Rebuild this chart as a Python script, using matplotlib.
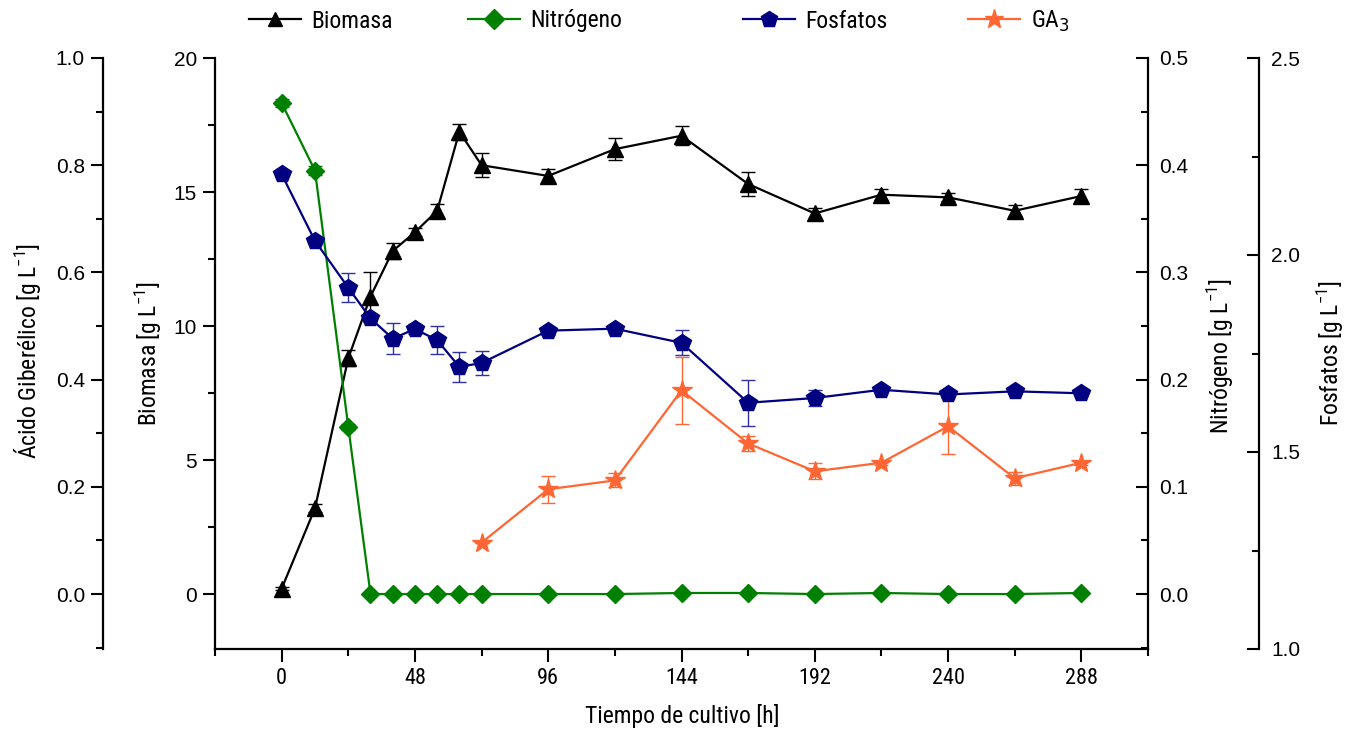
import matplotlib
matplotlib.use('Agg')
import matplotlib.pyplot as plt
from matplotlib.lines import Line2D
from matplotlib.ticker import MultipleLocator, FormatStrFormatter

# ---------------- data ----------------
time_h = [0, 12, 24, 32, 40, 48, 56, 64, 72, 96, 120, 144, 168, 192, 216, 240, 264, 288]
biomasa = [0.2, 3.2, 8.8, 11.1, 12.8, 13.5, 14.3, 17.25, 16.0, 15.6, 16.6, 17.1,
           15.3, 14.2, 14.9, 14.8, 14.3, 14.85]
biomasa_err = [0.05, 0.15, 0.3, 0.9, 0.3, 0.15, 0.25, 0.3, 0.45, 0.25, 0.4, 0.35,
               0.45, 0.2, 0.2, 0.15, 0.2, 0.25]
nitrogeno = [0.458, 0.395, 0.156, 0.0, 0.0, 0.0, 0.0, 0.0, 0.0, 0.0, 0.0, 0.001,
             0.001, 0.0, 0.001, 0.0, 0.0, 0.001]
nitrogeno_err = [0.004, 0.004, 0.003, 0.0, 0.0, 0.0, 0.0, 0.0, 0.0, 0.0, 0.0, 0.0,
                 0.0, 0.0, 0.0, 0.0, 0.0, 0.0]
fosfatos = [2.205, 2.036, 1.917, 1.839, 1.788, 1.812, 1.784, 1.716, 1.726, 1.808,
            1.813, 1.777, 1.625, 1.637, 1.658, 1.646, 1.654, 1.649]
fosfatos_err = [0.005, 0.005, 0.037, 0.01, 0.04, 0.012, 0.035, 0.039, 0.031, 0.01,
                0.01, 0.032, 0.059, 0.02, 0.005, 0.005, 0.005, 0.005]
ga_time = [72, 96, 120, 144, 168, 192, 216, 240, 264, 288]
ga3 = [0.096, 0.1955, 0.212, 0.380, 0.281, 0.229, 0.245, 0.313, 0.216, 0.245]
ga3_err = [0.0, 0.025, 0.013, 0.063, 0.014, 0.015, 0.004, 0.052, 0.012, 0.004]

x_ticks = [0, 48, 96, 144, 192, 240, 288]

# ---------------- style ----------------
NARROW = ['Liberation Sans Narrow', 'Roboto Condensed', 'Liberation Sans', 'DejaVu Sans']
REG = ['Liberation Sans', 'Arial', 'DejaVu Sans']
plt.rcParams['font.family'] = REG
plt.rcParams['mathtext.fontset'] = 'custom'
plt.rcParams['mathtext.rm'] = 'Liberation Sans Narrow'

C_BIO = 'black'
C_N = '#008000'
C_P = '#000080'
C_GA = '#FF6633'

W, H = 1358, 736
fig = plt.figure(figsize=(W / 100, H / 100), dpi=100)
xL, xR, yT, yB = 215, 1148, 58, 649
ax = fig.add_axes([xL / W, 1 - yB / H, (xR - xL) / W, (yB - yT) / H])
span = xR - xL

ax_ga = ax.twinx()
ax_n = ax.twinx()
ax_p = ax.twinx()

# ---------------- series ----------------
lw = 1.6
ax.errorbar(time_h, biomasa, yerr=biomasa_err, color=C_BIO, marker='^', ms=12,
            lw=lw, capsize=5, elinewidth=1.0, capthick=1.0, zorder=3)
ax_n.errorbar(time_h, nitrogeno, yerr=nitrogeno_err, color=C_N, marker='D', ms=9.5,
              lw=lw, capsize=5, elinewidth=1.0, capthick=1.0)
ax_p.errorbar(time_h, fosfatos, yerr=fosfatos_err, color=C_P, ecolor='#3030A0',
              marker='p', ms=13, lw=lw, capsize=5, elinewidth=1.0, capthick=1.0)
ax_ga.errorbar(ga_time, ga3, yerr=ga3_err, color=C_GA, marker='*', ms=15,
               lw=lw, capsize=5, elinewidth=1.0, capthick=1.0)

# ---------------- axes: x / biomasa ----------------
ax.set_xlim(-24, 312)
ax.set_ylim(-2.05, 20)
ax.set_xticks(x_ticks)
ax.xaxis.set_minor_locator(MultipleLocator(24))
ax.yaxis.set_major_locator(MultipleLocator(5))
ax.yaxis.set_minor_locator(MultipleLocator(2.5))
for s in ['top', 'right']:
    ax.spines[s].set_visible(False)
for s in ['left', 'bottom']:
    ax.spines[s].set_linewidth(1.6)
ax.tick_params(axis='x', which='major', direction='out', length=9, width=1.5, pad=5,
               labelsize=15)
ax.tick_params(axis='x', which='minor', direction='out', length=5, width=1.5)
ax.tick_params(axis='y', which='major', direction='out', length=9, width=1.5, pad=4,
               labelsize=15)
ax.tick_params(axis='y', which='minor', direction='out', length=5, width=1.5)
for lab in ax.get_xticklabels():
    lab.set_family(NARROW)
    lab.set_fontsize(16)

ax.set_xlabel('Tiempo de cultivo [h]', family=NARROW, fontsize=17)
ax.xaxis.set_label_coords((682 - xL) / span, (yB - 716) / (yB - yT))
ax.xaxis.label.set_va('center')
ax.set_ylabel(r'Biomasa [g L$^{\mathregular{-1}}$]', family=NARROW, fontsize=17)
ax.yaxis.set_label_coords((149 - xL) / span, 0.5)
ax.yaxis.label.set_va('center')

# ---------------- GA axis (outer left) ----------------
ax_ga.yaxis.set_ticks_position('left')
ax_ga.yaxis.set_label_position('left')
ax_ga.spines['left'].set_position(('axes', (103 - xL) / span))
ax_ga.spines['left'].set_visible(True)
ax_ga.spines['left'].set_linewidth(1.6)
for s in ['top', 'right', 'bottom']:
    ax_ga.spines[s].set_visible(False)
ax_ga.set_ylim(-0.1025, 1.0)
ax_ga.yaxis.set_major_locator(MultipleLocator(0.2))
ax_ga.yaxis.set_minor_locator(MultipleLocator(0.1))
ax_ga.yaxis.set_major_formatter(FormatStrFormatter('%.1f'))
ax_ga.tick_params(axis='y', which='major', direction='out', length=9, width=1.5, pad=4,
                  labelsize=15)
ax_ga.tick_params(axis='y', which='minor', direction='out', length=5, width=1.5)
ax_ga.set_ylabel(r'Ácido Giberélico [g L$^{\mathregular{-1}}$]', family=NARROW, fontsize=17)
ax_ga.yaxis.set_label_coords((28 - xL) / span, 0.505)
ax_ga.yaxis.label.set_va('center')

# ---------------- Nitrogen axis (right) ----------------
for s in ['top', 'left', 'bottom']:
    ax_n.spines[s].set_visible(False)
ax_n.spines['right'].set_linewidth(1.6)
ax_n.set_ylim(-0.05125, 0.5)
ax_n.yaxis.set_major_locator(MultipleLocator(0.1))
ax_n.yaxis.set_minor_locator(MultipleLocator(0.05))
ax_n.yaxis.set_major_formatter(FormatStrFormatter('%.1f'))
ax_n.tick_params(axis='y', which='major', direction='in', length=9, width=1.5, pad=8,
                 labelsize=15)
ax_n.tick_params(axis='y', which='minor', direction='in', length=5, width=1.5)
ax_n.set_ylabel(r'Nitrógeno [g L$^{\mathregular{-1}}$]', family=NARROW, fontsize=17)
ax_n.yaxis.set_label_coords((1221 - xL) / span, 0.495)
ax_n.yaxis.label.set_va('center')

# ---------------- Phosphate axis (outer right) ----------------
for s in ['top', 'left', 'bottom']:
    ax_p.spines[s].set_visible(False)
ax_p.spines['right'].set_position(('axes', (1259 - xL) / span))
ax_p.spines['right'].set_linewidth(1.6)
ax_p.set_ylim(1.0, 2.5)
ax_p.yaxis.set_major_locator(MultipleLocator(0.5))
ax_p.yaxis.set_minor_locator(MultipleLocator(0.25))
ax_p.yaxis.set_major_formatter(FormatStrFormatter('%.1f'))
ax_p.tick_params(axis='y', which='major', direction='in', length=9, width=1.5, pad=9,
                 labelsize=15)
ax_p.tick_params(axis='y', which='minor', direction='in', length=5, width=1.5)
ax_p.set_ylabel(r'Fosfatos [g L$^{\mathregular{-1}}$]', family=NARROW, fontsize=17)
ax_p.yaxis.set_label_coords((1331 - xL) / span, 0.5)
ax_p.yaxis.label.set_va('center')

# ---------------- legend (four separate entries across the top) ----------------
entries = [
    ('Biomasa', C_BIO, '^', 10, 249),
    ('Nitrógeno', C_N, 'D', 10, 468),
    ('Fosfatos', C_P, 'p', 12, 743),
    ('GA$_3$', C_GA, '*', 14, 968),
]
for label, col, mk, ms, xpix in entries:
    h = Line2D([], [], color=col, marker=mk, ms=ms, lw=lw)
    leg = fig.legend([h], [label], loc='center left',
                     bbox_to_anchor=(xpix / W, 1 - 21 / H), frameon=False,
                     borderpad=0, borderaxespad=0, handlelength=2.2,
                     handletextpad=0.45,
                     prop={'family': NARROW, 'size': 17})

fig.savefig('out.png', dpi=100)
